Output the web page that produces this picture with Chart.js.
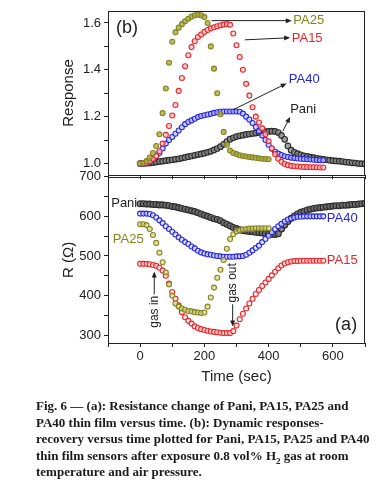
<!DOCTYPE html>
<html>
<head>
<meta charset="utf-8">
<script src="https://cdn.jsdelivr.net/npm/chart.js@4.4.1/dist/chart.umd.min.js"></script>
<style>
  body { margin: 0; background: #fff; width: 390px; height: 500px; position: relative; overflow: hidden; }
  #responseChart { position: absolute; left: 0; top: 0; }
  #resistanceChart { position: absolute; left: 0; top: 166px; }
  .caption { position: absolute; left: 36px; top: 398px; font-family: 'Liberation Serif', serif; font-weight: bold; font-size: 13px; line-height: 16.5px; color: #1a1a1a; white-space: nowrap; }
  .caption sub { font-size: 9px; line-height: 0; }
</style>
</head>
<body>
<canvas id="responseChart" width="390" height="186"></canvas>
<canvas id="resistanceChart" width="390" height="224"></canvas>
<div class="caption">
  <div>Fig. 6 &mdash; (a): Resistance change of Pani, PA15, PA25 and</div>
  <div>PA40 thin film versus time. (b): Dynamic responses-</div>
  <div>recovery versus time plotted for Pani, PA15, PA25 and PA40</div>
  <div>thin film sensors after exposure 0.8 vol% H<sub>2</sub> gas at room</div>
  <div>temperature and air pressure.</div>
</div>
<script>
// sample times (sec), every 10 s
const timeSec = [0, 10, 20, 30, 40, 50, 60, 70, 80, 90, 100, 110, 120, 130, 140, 150, 160, 170, 180, 190,
  200, 210, 220, 230, 240, 250, 260, 270, 280, 290, 300, 310, 320, 330, 340, 350, 360, 370, 380, 390,
  400, 410, 420, 430, 440, 450, 460, 470, 480, 490, 500, 510, 520, 530, 540, 550, 560, 570, 580, 590,
  600, 610, 620, 630, 640, 650, 660, 670, 680, 690, 700, 710];

// (b) response
const respPA25 = [1.000, 1.002, 1.010, 1.025, 1.045, 1.075, 1.125, 1.215, 1.320, 1.430,
  1.520, 1.560, 1.580, 1.595, 1.607, 1.618, 1.627, 1.633, 1.635, 1.633,
  1.625, 1.600, 1.500, 1.405, 1.300, 1.210, 1.135, 1.080, 1.055, 1.045,
  1.040, 1.035, 1.032, 1.030, 1.028, 1.026, 1.024, 1.022, 1.020, 1.019, 1.018];
const respPA15 = [1.000, 1.000, 1.003, 1.010, 1.020, 1.032, 1.052, 1.085, 1.122, 1.160,
  1.205, 1.250, 1.310, 1.365, 1.415, 1.462, 1.497, 1.522, 1.540, 1.551,
  1.562, 1.570, 1.577, 1.582, 1.586, 1.590, 1.593, 1.595, 1.592, 1.555,
  1.505, 1.455, 1.400, 1.340, 1.290, 1.240, 1.200, 1.175, 1.150, 1.125,
  1.095, 1.065, 1.040, 1.020, 1.007, 0.998, 0.993, 0.990, 0.988, 0.987,
  0.986, 0.985, 0.985, 0.984, 0.984, 0.984, 0.983, 0.983];
const respPA40 = [1.000, 1.002, 1.006, 1.012, 1.018, 1.030, 1.045, 1.064, 1.085, 1.100,
  1.113, 1.127, 1.141, 1.155, 1.168, 1.177, 1.184, 1.191, 1.198, 1.203,
  1.206, 1.209, 1.212, 1.216, 1.219, 1.221, 1.222, 1.222, 1.222, 1.222,
  1.222, 1.221, 1.213, 1.200, 1.188, 1.173, 1.156, 1.138, 1.120, 1.100,
  1.080, 1.063, 1.050, 1.042, 1.036, 1.031, 1.028, 1.025, 1.023, 1.021,
  1.020, 1.019, 1.018, 1.017, 1.016, 1.015, 1.014, 1.014];
const respPani = [1.000, 1.000, 1.001, 1.002, 1.004, 1.006, 1.008, 1.010, 1.012, 1.014,
  1.016, 1.018, 1.020, 1.023, 1.026, 1.029, 1.032, 1.035, 1.038, 1.041,
  1.044, 1.048, 1.052, 1.058, 1.064, 1.072, 1.082, 1.094, 1.104, 1.110,
  1.115, 1.118, 1.121, 1.124, 1.126, 1.128, 1.130, 1.132, 1.134, 1.136,
  1.137, 1.138, 1.137, 1.132, 1.120, 1.103, 1.075, 1.057, 1.048, 1.042,
  1.037, 1.033, 1.030, 1.027, 1.025, 1.022, 1.020, 1.018, 1.016, 1.014,
  1.012, 1.011, 1.010, 1.008, 1.006, 1.005, 1.003, 1.002, 1.000, 0.999, 0.998, 0.997];

// (a) resistance, ohm
const resPA25 = [580, 580, 578, 568, 553, 533, 508, 484, 458, 428,
  400, 380, 372, 367, 364, 361, 360, 358, 357, 356,
  357, 372, 395, 420, 445, 465, 490, 518, 543, 555,
  562, 565, 567, 568, 569, 569, 570, 570, 570, 570, 570];
const resPA15 = [480, 480, 480, 479, 477, 475, 470, 463, 450, 430,
  409, 392, 375, 358, 345, 336, 329, 322, 318, 315,
  313, 311, 309, 308, 307, 306, 305, 305, 305, 310,
  324, 340, 354, 367, 380, 392, 404, 414, 424, 433,
  442, 451, 460, 469, 476, 481, 484, 486, 487, 487,
  488, 488, 488, 488, 488, 488, 488, 488];
const resPA40 = [607, 607, 607, 606, 603, 597, 590, 583, 575, 568,
  561, 554, 547, 541, 535, 530, 524, 519, 513, 509,
  506, 504, 503, 501, 500, 499, 498, 498, 498, 498,
  499, 499, 500, 503, 508, 514, 520, 526, 535, 543,
  551, 560, 568, 575, 581, 587, 592, 595, 597, 599,
  599, 600, 600, 600, 600, 600, 600, 600];
const resPani = [632, 632, 631, 631, 630, 630, 629, 629, 628, 627,
  625, 624, 622, 620, 618, 616, 614, 612, 609, 606,
  603, 600, 597, 594, 592, 589, 584, 580, 576, 572,
  569, 566, 564, 563, 562, 561, 560, 559, 558, 557,
  556, 555, 554, 556, 568, 578, 587, 595, 601, 606,
  610, 613, 616, 618, 620, 621, 622, 623, 624, 625,
  626, 627, 627, 628, 628, 629, 630, 630, 631, 632, 633, 633];

// axis ticks
const timeTicks = [-100, 0, 100, 200, 300, 400, 500, 600, 700];
const timeTickLabels = ['', '0', '', '200', '', '400', '', '600', ''];
const respTicks = [1.0, 1.1, 1.2, 1.3, 1.4, 1.5, 1.6];
const respTickLabels = ['1.0', '', '1.2', '', '1.4', '', '1.6'];
const resTicks = [300, 350, 400, 450, 500, 550, 600, 650, 700];
const resTickLabels = ['300', '', '400', '', '500', '', '600', '', '700'];

const OLIVE = '#84841c', RED = '#e8262a', BLUE = '#2626e0', DARK = '#2a2a2a';
const INK = '#222';

Chart.defaults.font.family = "'Liberation Sans', Arial, sans-serif";
Chart.defaults.color = INK;

function points(values) {
  return values.map((v, i) => ({ x: timeSec[i], y: v }));
}

function series(label, values, color, fill, radius) {
  return {
    label: label,
    data: points(values),
    showLine: false,
    pointRadius: radius || 2.5,
    pointBorderWidth: 1.1,
    pointBorderColor: color,
    pointBackgroundColor: fill
  };
}

// frame box, text labels and arrows, placed in data units
function overlay(notes, arrows) {
  return {
    id: 'overlay',
    afterDraw(chart) {
      const { ctx, chartArea: a, scales } = chart;
      const px = (t, v) => [scales.x.getPixelForValue(t), scales.y.getPixelForValue(v)];
      ctx.save();
      ctx.strokeStyle = INK;
      ctx.lineWidth = 1;
      ctx.strokeRect(Math.round(a.left) + 0.5, Math.round(a.top) + 0.5,
        Math.round(a.right - a.left) - 1, Math.round(a.bottom - a.top));

      arrows.forEach(ar => {
        const [x1, y1] = px(ar.from[0], ar.from[1]);
        const [x2, y2] = px(ar.to[0], ar.to[1]);
        const ang = Math.atan2(y2 - y1, x2 - x1);
        ctx.strokeStyle = INK;
        ctx.fillStyle = INK;
        ctx.beginPath();
        ctx.moveTo(x1, y1);
        ctx.lineTo(x2 - 4 * Math.cos(ang), y2 - 4 * Math.sin(ang));
        ctx.stroke();
        ctx.beginPath();
        ctx.moveTo(x2, y2);
        ctx.lineTo(x2 - 6 * Math.cos(ang) + 2.5 * Math.sin(ang), y2 - 6 * Math.sin(ang) - 2.5 * Math.cos(ang));
        ctx.lineTo(x2 - 6 * Math.cos(ang) - 2.5 * Math.sin(ang), y2 - 6 * Math.sin(ang) + 2.5 * Math.cos(ang));
        ctx.closePath();
        ctx.fill();
      });

      notes.forEach(n => {
        const [x, y] = px(n.t, n.v);
        ctx.save();
        ctx.translate(x, y);
        if (n.rotate) ctx.rotate(n.rotate);
        ctx.font = (n.size || 13) + "px 'Liberation Sans', Arial, sans-serif";
        ctx.fillStyle = n.color || INK;
        ctx.textAlign = n.align || 'left';
        ctx.textBaseline = 'middle';
        ctx.fillText(n.text, 0, 0);
        ctx.restore();
      });
      ctx.restore();
    }
  };
}

function timeAxis(showLabels) {
  return {
    type: 'linear',
    min: -100,
    max: 700,
    afterBuildTicks: s => { s.ticks = timeTicks.map(v => ({ value: v })); },
    afterFit: s => { s.height = showLabels ? 47 : 10; },
    border: { display: false },
    grid: { drawOnChartArea: false, tickLength: 4, color: INK },
    ticks: {
      display: showLabels,
      autoSkip: false,
      maxRotation: 0,
      padding: 2,
      font: { size: 13 },
      callback: (v, i) => timeTickLabels[i]
    },
    title: {
      display: showLabels,
      text: 'Time (sec)',
      font: { size: 15 },
      padding: { top: 0, bottom: 4 }
    }
  };
}

function valueAxis(min, max, ticks, labels, title) {
  return {
    type: 'linear',
    min: min,
    max: max,
    afterBuildTicks: s => { s.ticks = ticks.map(v => ({ value: v })); },
    afterFit: s => { s.width = 108; },
    border: { display: false },
    grid: { drawOnChartArea: false, tickLength: 4, color: INK },
    ticks: {
      autoSkip: false,
      padding: 3,
      font: { size: 13 },
      callback: (v, i) => labels[i]
    },
    title: {
      display: true,
      text: title,
      font: { size: 15 },
      padding: { top: 60, bottom: 0 }
    }
  };
}

// (b) dynamic response
new Chart(document.getElementById('responseChart'), {
  type: 'scatter',
  data: {
    datasets: [
      series('PA25', respPA25, OLIVE, 'rgba(170,170,70,0.8)'),
      series('PA15', respPA15, RED, 'rgba(255,200,200,0.75)'),
      series('PA40', respPA40, BLUE, 'rgba(200,200,255,0.75)'),
      series('Pani', respPani, DARK, 'rgba(140,140,140,0.8)', 2.8)
    ]
  },
  options: {
    responsive: false,
    animation: false,
    events: [],
    layout: { padding: { top: 10, right: 25, bottom: 0, left: 0 } },
    plugins: { legend: { display: false }, tooltip: { enabled: false } },
    scales: {
      x: timeAxis(false),
      y: valueAxis(0.95, 1.652, respTicks, respTickLabels, 'Response')
    }
  },
  plugins: [overlay([
    { t: -75, v: 1.58, text: '(b)', size: 18 },
    { t: 477, v: 1.610, text: 'PA25', color: OLIVE },
    { t: 472, v: 1.534, text: 'PA15', color: RED },
    { t: 463, v: 1.360, text: 'PA40', color: BLUE },
    { t: 467, v: 1.229, text: 'Pani' }
  ], [
    { from: [222, 1.610], to: [472, 1.610] },
    { from: [326, 1.528], to: [467, 1.537] },
    { from: [289, 1.229], to: [456, 1.342] },
    { from: [444, 1.138], to: [467, 1.199] }
  ])]
});

// (a) resistance
new Chart(document.getElementById('resistanceChart'), {
  type: 'scatter',
  data: {
    datasets: [
      series('PA25', resPA25, OLIVE, 'rgba(215,215,140,0.75)'),
      series('PA15', resPA15, RED, 'rgba(255,225,225,0.75)'),
      series('PA40', resPA40, BLUE, 'rgba(225,225,255,0.75)'),
      series('Pani', resPani, DARK, 'rgba(110,110,110,0.85)', 3)
    ]
  },
  options: {
    responsive: false,
    animation: false,
    events: [],
    layout: { padding: { top: 10, right: 25, bottom: 0, left: 0 } },
    plugins: { legend: { display: false }, tooltip: { enabled: false } },
    scales: {
      x: timeAxis(true),
      y: valueAxis(280, 700, resTicks, resTickLabels, 'R (\u03A9)')
    }
  },
  plugins: [overlay([
    { t: -90, v: 632, text: 'Pani' },
    { t: 581, v: 594, text: 'PA40', color: BLUE },
    { t: -85, v: 543, text: 'PA25', color: OLIVE },
    { t: 581, v: 489, text: 'PA15', color: RED },
    { t: 607, v: 325, text: '(a)', size: 18 },
    { t: 45, v: 359, text: 'gas in', size: 12, align: 'center', rotate: -Math.PI / 2 },
    { t: 288, v: 432, text: 'gas out', size: 12, align: 'center', rotate: -Math.PI / 2 }
  ], [
    { from: [44, 403], to: [44, 461] },
    { from: [288, 378], to: [288, 322] }
  ])]
});
</script>
</body>
</html>
